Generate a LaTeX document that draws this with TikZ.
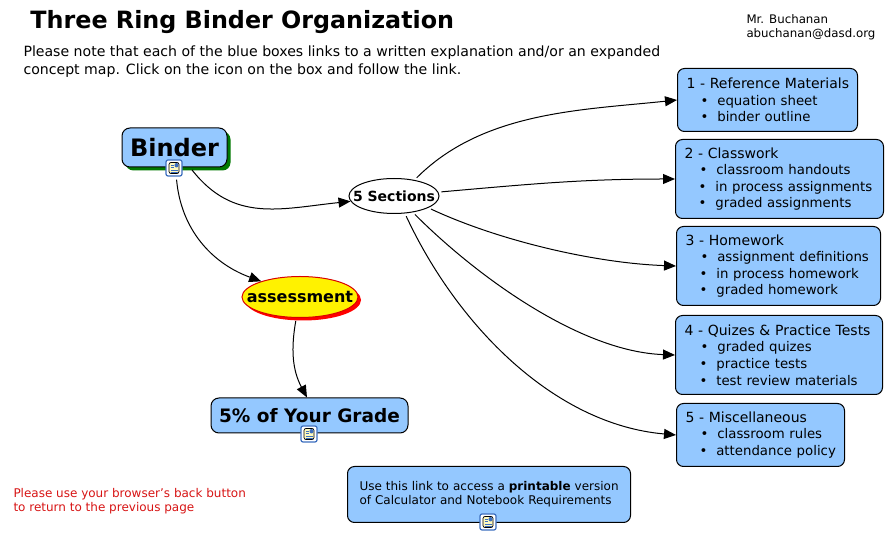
\documentclass[tikz,border=0pt]{standalone}
\usepackage{fontspec}
\setmainfont{DejaVu Sans}
\usepackage{tikz}
\usetikzlibrary{arrows.meta,shadows,shapes.geometric}

\definecolor{boxblue}{RGB}{148,200,255}
\definecolor{iconblue}{RGB}{60,110,190}
\definecolor{paper}{RGB}{255,250,190}
\definecolor{shadowgreen}{RGB}{0,120,0}
\definecolor{linkred}{RGB}{215,20,20}

\newcommand{\hd}{\hspace*{6pt}}
\newcommand{\blt}[2]{\mbox{\fontsize{13.3}{16.6}\selectfont\hspace{#1pt}\textbullet\hspace{9pt}#2}}

\begin{document}
\begin{tikzpicture}[x=1pt,y=-1pt,line width=1pt,
  main box/.style={draw,fill=boxblue,rounded corners=7pt,anchor=north west,align=left,
    inner xsep=3pt,inner ysep=0pt,font=\fontsize{14}{16.6}\selectfont},
  big box/.style={draw,fill=boxblue,rounded corners=8pt,align=center,inner sep=0pt,font=\bfseries},
  link icon/.style={draw=iconblue,line width=1.2pt,fill=white,rounded corners=2pt,minimum size=16pt,inner sep=0pt,
    path picture={
      \fill[paper,draw=black,line width=.7pt] ([shift={(3pt,2.5pt)}]path picture bounding box.south west) rectangle ([shift={(-3pt,-2.5pt)}]path picture bounding box.north east);
      \fill[iconblue] ([shift={(-7.5pt,-7.5pt)}]path picture bounding box.north east) rectangle ([shift={(-3.5pt,-3pt)}]path picture bounding box.north east);
      \foreach \h in {5,7.5}
        \draw[line width=.7pt] ([shift={(4.5pt,-\h pt)}]path picture bounding box.north west) -- ++(3.5pt,0pt);
      \foreach \h in {10,12}
        \draw[line width=.7pt] ([shift={(4.5pt,-\h pt)}]path picture bounding box.north west) -- ++(7pt,0pt);
    }},
  plain text/.style={anchor=west,align=left,inner sep=0pt},
  every edge/.style={draw,shorten <=3pt,-{Triangle[length=12pt,width=10pt]}}]

  \useasboundingbox (0,0) rectangle (887,534);

  % heading
  \node[plain text,font=\bfseries\fontsize{23.8}{28}\selectfont] (title) at (30,22) {Three Ring Binder Organization};
  \node[plain text,font=\fontsize{11.8}{14}\selectfont] (author) at (746,27.5) {Mr. Buchanan\\abuchanan@dasd.org};
  \node[plain text,font=\fontsize{14.1}{18}\selectfont] (note) at (23,62) {Please note that each of the blue boxes links to a written explanation and/or an expanded\\concept map. Click on the icon on the box and follow the link.};

  % left side
  \node[big box,font=\bfseries\fontsize{24}{28}\selectfont,minimum width=105pt,minimum height=39pt,
    drop shadow={shadow xshift=3.5pt,shadow yshift=-3.5pt,fill=shadowgreen,opacity=1}] (binder) at (174.5,147.5) {\raisebox{1pt}{Binder}};
  \node[link icon] (binder icon) at (174,168) {};

  \node[draw,ellipse,fill=white,inner xsep=-15pt,inner ysep=0pt,minimum width=90pt,minimum height=35pt,font=\bfseries\fontsize{14}{16}\selectfont] (sections) at (394,196) {5 Sections};

  \node[draw=red!85!black,ellipse,fill=yellow,inner xsep=-20pt,inner ysep=0pt,minimum width=116pt,minimum height=41pt,font=\bfseries\fontsize{16}{18}\selectfont,
    drop shadow={shadow xshift=3pt,shadow yshift=-3pt,fill=red,opacity=1}] (assessment) at (300,297) {assessment};

  \node[big box,font=\bfseries\fontsize{18.5}{22}\selectfont,minimum width=197pt,minimum height=35pt] (grade) at (309.5,415.5) {5\% of Your Grade};
  \node[link icon] (grade icon) at (309,434) {};

  % section boxes
  \node[main box,text width=174pt,minimum height=63pt] (box1) at (677,68) {\hd 1 - Reference Materials\\\blt{20}{equation sheet}\\\blt{20}{binder outline}\\[-5pt]};
  \node[main box,text width=202pt,minimum height=79pt] (box2) at (675,139) {\hd 2 - Classwork\\\blt{21}{classroom handouts}\\\blt{20}{in process assignments}\\\blt{20}{graded assignments}};
  \node[main box,text width=198pt,minimum height=79pt] (box3) at (676,226) {\hd 3 - Homework\\\blt{21}{assignment definitions}\\\blt{20}{in process homework}\\\blt{20}{graded homework}};
  \node[main box,text width=201pt,minimum height=79pt] (box4) at (675,315) {\hd 4 - Quizes \& Practice Tests\\\blt{22}{graded quizes}\\\blt{21}{practice tests}\\\blt{21}{test review materials}};
  \node[main box,text width=162pt,minimum height=63pt] (box5) at (676,403) {\hd 5 - Miscellaneous\\\blt{21}{classroom rules}\\\blt{20}{attendance policy}};

  % bottom notes
  \node[main box,text width=277pt,minimum height=56pt,font=\fontsize{12}{14}\selectfont] (printbox) at (347,466) {\hspace*{9pt}Use this link to access a \textbf{printable} version\\\hspace*{9pt}of Calculator and Notebook Requirements\\[-8pt]};
  \node[link icon] (print icon) at (488,522) {};
  \node[plain text,text=linkred,font=\fontsize{12}{14}\selectfont] (back) at (13,501) {Please use your browser's back button\\to return to the previous page};

  \path
    (binder.-52) edge [out=-52,in=186,looseness=1.1] (sections.187)
    (binder icon.-75) edge [out=-85,in=160] (assessment.158)
    (assessment.-100) edge [out=-100,in=118] (grade.98)
    (sections.38) edge [out=45,in=186,looseness=.9] (box1.west)
    (sections.5) edge [out=5,in=180] (box2.west)
    (sections.-19) edge [out=-25,in=178,looseness=.8] (box3.west)
    (sections.-41) edge [out=-45,in=178,looseness=.8] (box4.west)
    (sections.-58) edge [out=-65,in=175,looseness=.9] (box5.west);
\end{tikzpicture}
\end{document}
